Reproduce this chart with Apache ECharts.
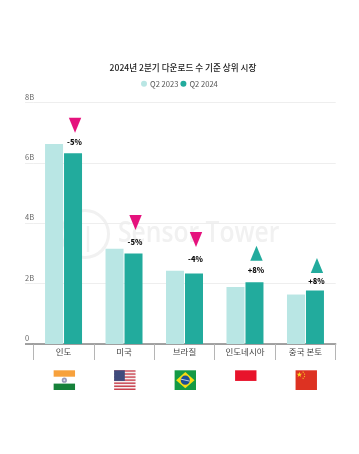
<!DOCTYPE html>
<html><head><meta charset="utf-8">
<style>html,body{margin:0;padding:0;background:#fff}#c{width:359px;height:454px}</style>
<script src="https://cdn.jsdelivr.net/npm/echarts@6/dist/echarts.min.js"></script>
</head><body><div id="c"></div>
<script>
const titleText = '2024년 2분기 다운로드 수 기준 상위 시장';
const categories = ['인도', '미국', '브라질', '인도네시아', '중국 본토'];
const seriesNames = ['Q2 2023', 'Q2 2024'];
const q2023 = [6.63, 3.16, 2.43, 1.89, 1.64];
const q2024 = [6.32, 3.0, 2.34, 2.05, 1.77];
const changes = ['-5%', '-5%', '-4%', '+8%', '+8%'];
const flags = ['in', 'us', 'br', 'id', 'cn'];
const yTicks = [0, 2, 4, 6, 8];

const markerLift = [28, 31, 34, 29, 25];
const labelLift = [11, 11, 14, 11.6, 9.7];
const LIGHT = '#b9e6e4', DARK = '#22ab9d', PINK = '#e5127d';
const FONT = '"Noto Sans CJK KR","Noto Sans",sans-serif';

function star(cx, cy, r, rot, fill) {
  const pts = [];
  for (let i = 0; i < 10; i++) {
    const a = rot + i * Math.PI / 5 - Math.PI / 2, rr = i % 2 ? r * 0.4 : r;
    pts.push([cx + rr * Math.cos(a), cy + rr * Math.sin(a)]);
  }
  return { type: 'polygon', shape: { points: pts }, style: { fill } };
}
function rect(x, y, width, height, fill) {
  return { type: 'rect', shape: { x, y, width, height }, style: { fill } };
}
function flagShapes(code, x, y) {
  const w = 21.4, h = 19.7, out = [];
  if (code === 'in') {
    out.push(rect(x, y, w, 6.4, '#f7a13c'));
    out.push(rect(x, y + 13.3, w, 6.4, '#16813a'));
    out.push({ type: 'circle', shape: { cx: x + w / 2, cy: y + h / 2, r: 2.6 }, style: { fill: '#9a9ab8' } });
    out.push({ type: 'circle', shape: { cx: x + w / 2, cy: y + h / 2, r: 1 }, style: { fill: '#e4e4ee' } });
  } else if (code === 'us') {
    for (let i = 0; i < 13; i++) out.push(rect(x, y + i * h / 13, w, h / 13, i % 2 ? '#f4f0f0' : '#c8414e'));
    out.push(rect(x, y, w * 0.5, h * 7 / 13, '#3f4a7c'));
  } else if (code === 'br') {
    out.push(rect(x, y, w, h, '#149a45'));
    out.push({ type: 'polygon', shape: { points: [[x + 1.5, y + h / 2], [x + w / 2, y + 1.8], [x + w - 1.5, y + h / 2], [x + w / 2, y + h - 1.8]] }, style: { fill: '#f6dc14' } });
    out.push({ type: 'circle', shape: { cx: x + w / 2, cy: y + h / 2, r: 4.6 }, style: { fill: '#1d4f96' } });
    out.push({ type: 'line', shape: { x1: x + w / 2 - 4.4, y1: y + h / 2 - 1, x2: x + w / 2 + 4.4, y2: y + h / 2 + 1 }, style: { stroke: '#e8eef0', lineWidth: 0.8 } });
  } else if (code === 'id') {
    out.push(rect(x, y, w, h * 0.54, '#e8132b'));
  } else {
    out.push(rect(x, y, w, h, '#dd3222'));
    out.push(star(x + 3.8, y + 4.4, 2.9, 0, '#f8d820'));
    out.push(star(x + 7.6, y + 1.9, 1, 0.5, '#f8d820'));
    out.push(star(x + 8.9, y + 3.8, 1, 0.9, '#f8d820'));
    out.push(star(x + 8.9, y + 6.2, 1, 0, '#f8d820'));
    out.push(star(x + 7.6, y + 8, 1, 0.5, '#f8d820'));
  }
  return out;
}

const chart = echarts.init(document.getElementById('c'), null, { renderer: 'canvas' });
const GRID = { left: 33.3, right: 23.3, top: 102.7, bottom: 110 };
const tri = 'path://M0 0L12 0L6 15Z';
const triUp = 'path://M6 0L12 15L0 15Z';
const isDown = changes.map(c => c[0] === '-');

chart.setOption({
  animation: false,
  backgroundColor: '#fff',
  textStyle: { fontFamily: FONT },
  title: {
    text: titleText, left: 178, top: 56, textAlign: 'center',
    textStyle: { fontFamily: FONT, fontSize: 8.6, fontWeight: 500, color: '#222', lineHeight: 14 }
  },
  legend: {
    top: 75, left: 136, itemWidth: 6, itemHeight: 6, itemGap: 2, icon: 'circle',
    textStyle: { fontFamily: FONT, fontSize: 7.6, color: '#555', padding: [0, 0, 0, -2] },
    data: seriesNames
  },
  grid: GRID,
  xAxis: {
    type: 'category', data: categories,
    axisLine: { lineStyle: { color: '#858585', width: 1.5 } },
    axisTick: { show: true, length: 16, lineStyle: { color: '#b5b5b5', width: 1 } },
    axisLabel: { fontFamily: FONT, fontSize: 8.5, color: '#444', margin: 4, interval: 0 }
  },
  yAxis: {
    type: 'value', min: 0, max: 8, interval: 2,
    axisLine: { show: false },
    axisTick: { show: true, length: 8.3, lineStyle: { color: '#eeeeee', width: 1 } },
    splitLine: { lineStyle: { color: '#eeeeee', width: 1 } },
    axisLabel: {
      align: 'left', verticalAlign: 'bottom', margin: 8.3, fontFamily: FONT, fontSize: 7.5, color: '#666',
      lineHeight: 10, padding: [0, 0, 1, 0],
      formatter: v => yTicks.includes(v) ? (v === 0 ? '0' : v + 'B') : ''
    }
  },
  graphic: [
    { type: 'line', z: 5, shape: { x1: 25, y1: 344, x2: 33.3, y2: 344 }, style: { stroke: '#858585', lineWidth: 1.5 } },
    { type: 'circle', z: -1, silent: true, shape: { cx: 85, cy: 234, r: 23.5 }, style: { fill: 'none', stroke: '#f1f1f1', lineWidth: 3 } },
    { type: 'line', z: -1, silent: true, shape: { x1: 88, y1: 226, x2: 88, y2: 252 }, style: { stroke: '#f1f1f1', lineWidth: 2.5 } },
    { type: 'text', z: -1, silent: true, x: 118, y: 234, scaleX: 0.85, style: { text: 'Sensor Tower', x: 0, y: 0, verticalAlign: 'middle', font: '600 29px "Open Sans",sans-serif', fill: '#f1f1f1' } }
  ],
  series: [
    { name: seriesNames[0], type: 'bar', data: q2023, barWidth: 18, barGap: '5.5%', itemStyle: { color: LIGHT } },
    { name: seriesNames[1], type: 'bar', data: q2024, barWidth: 18, itemStyle: { color: DARK } },
    {
      name: 'markers', type: 'scatter', silent: true, z: 6,
      data: q2024.map((v, i) => ({
        value: [i, v],
        symbol: isDown[i] ? tri : triUp,
        symbolSize: [12.4, 15],
        symbolOffset: [11.5, -markerLift[i]],
        itemStyle: { color: isDown[i] ? PINK : DARK, opacity: 1 },
        label: {
          show: true, position: 'inside', formatter: changes[i],
          offset: [-0.5, markerLift[i] - labelLift[i]],
          fontFamily: FONT, fontSize: 7.5, fontWeight: 900, color: '#111'
        }
      }))
    },
    {
      name: 'flags', type: 'custom', silent: true, clip: false,
      data: flags.map((f, i) => [i, 0]),
      renderItem(params, api) {
        const i = api.value(0), p = api.coord([i, 0]);
        return { type: 'group', children: flagShapes(flags[i], p[0] + 0.8 - 10.7, p[1] + 26.3) };
      }
    }
  ]
});
</script></body></html>
